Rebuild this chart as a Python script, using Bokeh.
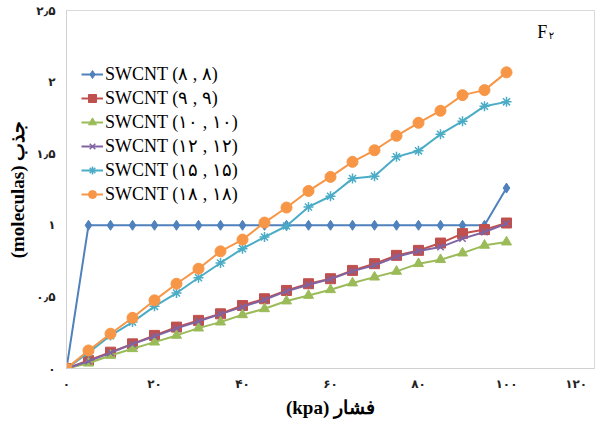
from bokeh.plotting import figure
from bokeh.models import Range1d, FixedTicker, Label, Legend
from bokeh.embed import file_html
from bokeh.resources import INLINE

# ---- data ----
pressure = [0, 5, 10, 15, 20, 25, 30, 35, 40, 45, 50, 55, 60, 65, 70, 75, 80, 85, 90, 95, 100]

swcnt_8 = [0, 1.0, 1.0, 1.0, 1.0, 1.0, 1.0, 1.0, 1.0, 1.0, 1.0, 1.0, 1.0, 1.0, 1.0, 1.0, 1.0, 1.0, 1.0, 1.0, 1.26]
swcnt_9 = [0, 0.056, 0.114, 0.172, 0.231, 0.289, 0.336, 0.382, 0.44, 0.487, 0.545, 0.592, 0.627, 0.685, 0.732, 0.79, 0.825, 0.876, 0.942, 0.97, 1.016]
swcnt_10 = [0, 0.037, 0.091, 0.138, 0.184, 0.231, 0.282, 0.324, 0.375, 0.417, 0.471, 0.51, 0.55, 0.597, 0.638, 0.678, 0.732, 0.76, 0.806, 0.86, 0.883]
swcnt_12 = [0, 0.05, 0.11, 0.17, 0.225, 0.28, 0.33, 0.38, 0.43, 0.48, 0.54, 0.585, 0.625, 0.68, 0.72, 0.78, 0.82, 0.848, 0.907, 0.953, 1.012]
swcnt_15 = [0, 0.11, 0.23, 0.324, 0.434, 0.527, 0.634, 0.737, 0.837, 0.918, 0.995, 1.128, 1.203, 1.326, 1.343, 1.478, 1.52, 1.636, 1.727, 1.832, 1.862]
swcnt_18 = [0, 0.126, 0.243, 0.354, 0.476, 0.592, 0.697, 0.818, 0.9, 1.019, 1.124, 1.24, 1.338, 1.443, 1.524, 1.625, 1.716, 1.80, 1.909, 1.944, 2.068]

series_names = ["SWCNT (۸ , ۸)", "SWCNT (۹ , ۹)", "SWCNT (۱۰ , ۱۰)",
                "SWCNT (۱۲ , ۱۲)", "SWCNT (۱۵ , ۱۵)", "SWCNT (۱۸ , ۱۸)"]

x_ticks = [0, 20, 40, 60, 80, 100, 120]
x_tick_labels = ["۰", "۲۰", "۴۰", "۶۰", "۸۰", "۱۰۰", "۱۲۰"]
y_ticks = [0, 0.5, 1, 1.5, 2, 2.5]
y_tick_labels = ["۰", "۰٫۵", "۱", "۱٫۵", "۲", "۲٫۵"]

x_title = "(kpa) فشار"
y_title = "(moleculas) جذب"
panel_tag = ("F", "۲")

# ---- styles ----
colors = ["#4F81BD", "#C0504D", "#9BBB59", "#8064A2", "#4BACC6", "#F79646"]
markers = ["diamond", "square", "triangle", "x", "asterisk", "circle"]
msizes = [10, 10, 10, 9, 10, 11]
all_series = [swcnt_8, swcnt_9, swcnt_10, swcnt_12, swcnt_15, swcnt_18]

SERIF = "Liberation Serif"
NBSP = "\u00a0"

p = figure(width=595, height=421, output_backend="svg", toolbar_location=None,
           x_range=Range1d(0, 120), y_range=Range1d(0, 2.5),
           min_border_left=66, min_border_right=1, min_border_top=10, min_border_bottom=53)
p.background_fill_color = "white"
p.border_fill_color = "white"
p.outline_line_color = "#d9d9d9"
p.grid.visible = False

items = []
for name, ys, c, m, s in zip(series_names, all_series, colors, markers, msizes):
    r1 = p.line(pressure, ys, line_color=c, line_width=2)
    lw = 1.5 if m in ("x", "asterisk") else 1
    r2 = p.scatter(pressure, ys, marker=m, size=s, fill_color=c, line_color=c, line_width=lw)
    items.append((name, [r1, r2]))

legend = Legend(items=items, location=(15, 163), orientation="vertical",
                label_text_font=SERIF, label_text_font_size="18px", label_text_color="#000000",
                label_height=20, glyph_height=20, glyph_width=22, spacing=2,
                padding=0, margin=0, border_line_color=None, background_fill_alpha=0,
                label_standoff=2)
p.add_layout(legend)

# axes
for ax in (p.xaxis[0], p.yaxis[0]):
    ax.axis_line_color = "#d0d0d0"
    ax.major_tick_line_color = None
    ax.minor_tick_line_color = None
    ax.major_tick_out = 0
    ax.major_tick_in = 0
    ax.minor_tick_out = 0
    ax.minor_tick_in = 0
    ax.major_label_text_font = "DejaVu Sans"
    ax.major_label_text_font_style = "bold"
    ax.major_label_text_font_size = "12px"
    ax.major_label_text_color = "#222222"
    ax.axis_label_text_font = SERIF
    ax.axis_label_text_font_style = "bold"
    ax.axis_label_text_font_size = "19px"
    ax.axis_label_text_color = "#000000"

# last x label sits against the right edge (padded so it stays inside the page)
x_overrides = {t: l for t, l in zip(x_ticks, x_tick_labels)}
x_overrides[x_ticks[-1]] = x_tick_labels[-1] + NBSP * 2
p.xaxis[0].ticker = FixedTicker(ticks=x_ticks)
p.xaxis[0].major_label_overrides = x_overrides
p.xaxis[0].major_label_standoff = 8
p.xaxis[0].axis_label = x_title
p.xaxis[0].axis_label_standoff = 3

p.yaxis[0].ticker = FixedTicker(ticks=y_ticks)
p.yaxis[0].major_label_overrides = {t: l for t, l in zip(y_ticks, y_tick_labels)}
p.yaxis[0].major_label_standoff = 11
p.yaxis[0].axis_label = y_title
p.yaxis[0].axis_label_standoff = 5

p.add_layout(Label(x=107, y=2.35, text=panel_tag[0], text_align="left", text_baseline="middle",
                   text_font=SERIF, text_font_size="18px", text_color="#000000"))
p.add_layout(Label(x=109.6, y=2.325, text=panel_tag[1], text_align="left", text_baseline="middle",
                   text_font="DejaVu Sans", text_font_size="10px", text_color="#000000"))

open("out.html", "w").write(file_html(p, INLINE))
